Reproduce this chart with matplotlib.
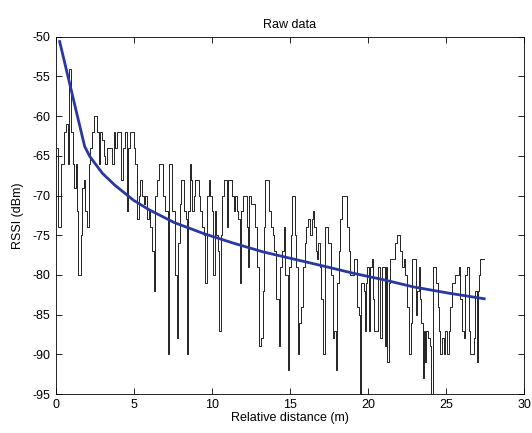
import numpy as np
import matplotlib
matplotlib.use("Agg")
import matplotlib.pyplot as plt

plt.rcParams['font.family'] = ['Liberation Sans', 'DejaVu Sans']
plt.rcParams['axes.unicode_minus'] = False

# raw RSSI samples (distance m, rssi dBm)
dist_raw = [0.09, 0.26, 0.43, 0.6, 0.73, 0.82, 0.94, 1.07, 1.16, 1.24, 1.33, 1.41, 1.5, 1.58,
            1.67, 1.75, 1.86, 1.97, 2.07, 2.18, 2.29, 2.39, 2.5, 2.61, 2.71, 2.82, 2.93, 3.03,
            3.14, 3.25, 3.35, 3.57, 3.67, 3.78, 3.89, 4.0, 4.14, 4.27, 4.42, 4.53, 4.59, 4.7,
            4.81, 4.95, 5.06, 5.17, 5.28, 5.38, 5.49, 5.6, 5.7, 5.81, 5.92, 6.02, 6.13, 6.24,
            6.32, 6.41, 6.56, 6.66, 6.83, 6.92, 7.05, 7.15, 7.24, 7.32, 7.43, 7.52, 7.62, 7.73,
            7.81, 7.9, 7.99, 8.07, 8.18, 8.28, 8.37, 8.43, 8.54, 8.63, 8.71, 8.8, 8.9, 9.01,
            9.12, 9.22, 9.33, 9.44, 9.54, 9.65, 9.76, 9.86, 9.97, 10.08, 10.14, 10.23, 10.33,
            10.44, 10.52, 10.61, 10.72, 10.82, 10.93, 10.99, 11.1, 11.25, 11.36, 11.46, 11.57,
            11.68, 11.74, 11.83, 11.95, 12.1, 12.21, 12.32, 12.36, 12.42, 12.57, 12.74, 12.85,
            12.96, 13.06, 13.21, 13.3, 13.38, 13.49, 13.6, 13.71, 13.88, 13.96, 14.05, 14.13,
            14.24, 14.34, 14.45, 14.56, 14.66, 14.77, 14.84, 14.92, 15.03, 15.12, 15.2, 15.31,
            15.39, 15.45, 15.54, 15.65, 15.8, 15.88, 16.01, 16.12, 16.22, 16.37, 16.44, 16.52,
            16.63, 16.73, 16.8, 16.86, 16.95, 17.08, 17.18, 17.29, 17.4, 17.5, 17.61, 17.72,
            17.8, 17.91, 18.0, 18.08, 18.19, 18.29, 18.4, 18.57, 18.72, 18.83, 18.93, 19.08,
            19.15, 19.25, 19.36, 19.47, 19.53, 19.62, 19.72, 19.79, 19.83, 19.91, 20.02, 20.11,
            20.21, 20.28, 20.36, 20.47, 20.58, 20.68, 20.77, 20.83, 20.92, 21.03, 21.11, 21.2,
            21.28, 21.39, 21.49, 21.64, 21.81, 21.94, 22.03, 22.13, 22.24, 22.35, 22.44, 22.58,
            22.7, 22.8, 22.9, 23.05, 23.14, 23.2, 23.31, 23.35, 23.48, 23.56, 23.63, 23.69,
            23.78, 23.91, 23.99, 24.12, 24.22, 24.33, 24.42, 24.5, 24.59, 24.7, 24.8, 24.91,
            25.02, 25.12, 25.23, 25.34, 25.44, 25.55, 25.65, 25.76, 25.86, 25.97, 26.08, 26.19,
            26.29, 26.4, 26.51, 26.62, 26.72, 26.83, 26.93, 27.0, 27.08, 27.15, 27.26, 27.38, 27.45]
rssi_raw = [-64, -74, -66, -62, -61, -66, -54, -62, -66, -69, -66, -72, -80, -80,
            -75, -69, -68, -72, -74, -66, -64, -62, -60, -60, -62, -66, -62, -63,
            -65, -66, -64, -64, -66, -62, -64, -62, -62, -68, -64, -62, -72, -64,
            -62, -62, -64, -66, -73, -70, -68, -70, -71, -70, -73, -72, -74, -77,
            -82, -70, -68, -66, -66, -70, -72, -72, -90, -66, -66, -72, -72, -80,
            -88, -76, -71, -68, -68, -72, -73, -90, -72, -66, -68, -72, -70, -68,
            -68, -70, -72, -74, -75, -81, -70, -68, -70, -72, -80, -72, -75,
            -77, -87, -75, -70, -68, -68, -74, -68, -68, -70, -72, -70,
            -72, -73, -81, -72, -70, -70, -74, -79, -70, -71, -71, -74,
            -79, -89, -88, -82, -74, -68, -68, -72, -74, -75, -77, -83,
            -83, -89, -79, -77, -74, -80, -80, -92, -79, -75, -70, -70,
            -75, -79, -90, -86, -84, -79, -76, -74, -73, -75, -73, -72,
            -74, -77, -78, -76, -79, -83, -90, -74, -74, -76, -76, -80,
            -88, -87, -92, -81, -77, -73, -70, -70, -74, -77, -80, -80,
            -78, -78, -84, -85, -95, -81, -81, -82, -87, -81, -79, -87,
            -79, -78, -83, -87, -87, -79, -79, -88, -79, -79, -89, -79,
            -91, -81, -78, -78, -76, -75, -75, -77, -79, -78, -80, -84,
            -90, -86, -78, -78, -85, -82, -79, -83, -86, -93, -87, -91,
            -87, -88, -89, -95, -79, -79, -81, -84, -87, -90, -88, -90,
            -87, -90, -87, -84, -81, -81, -80, -80, -79, -83, -87, -88,
            -80, -79, -87, -90, -90, -88, -82, -91, -82, -80, -78, -78, -78]

# fitted path-loss curve
dist_fit = [0.26, 1.86, 2.2, 3.0, 3.8, 5.0, 6.0, 7.6, 9.5, 11.4, 13.3, 15.25, 17.2,
            19.1, 21.0, 22.9, 25.2, 27.45]
rssi_fit = [-50.6, -63.8, -65.1, -67.2, -68.7, -70.6, -71.8, -73.4, -74.8, -76.0, -77.1,
            -78.0, -78.9, -79.8, -80.6, -81.5, -82.3, -83.0]

fig = plt.figure(figsize=(5.32, 4.33), dpi=100)
ax = fig.add_axes([0.1045, 0.09, 0.8805, 0.825])

ax.plot(dist_raw, rssi_raw, color='#222222', linewidth=0.7, drawstyle='steps-mid')
ax.plot(dist_fit, rssi_fit, color='#2838a0', linewidth=2)

ax.set_xlim(0, 30)
ax.set_ylim(-95, -50)
ax.set_xticks(np.arange(0, 31, 5))
ax.set_yticks(np.arange(-95, -49, 5))
ax.tick_params(direction='in', top=True, right=True, labelsize=9, length=4, width=0.6)
for s in ax.spines.values():
    s.set_linewidth(0.6)

ax.set_title('Raw data', fontsize=9)
ax.set_xlabel('Relative distance (m)', fontsize=9, labelpad=1)
ax.set_ylabel('RSSI (dBm)', fontsize=9, labelpad=6)

fig.savefig('out.png', dpi=100)
